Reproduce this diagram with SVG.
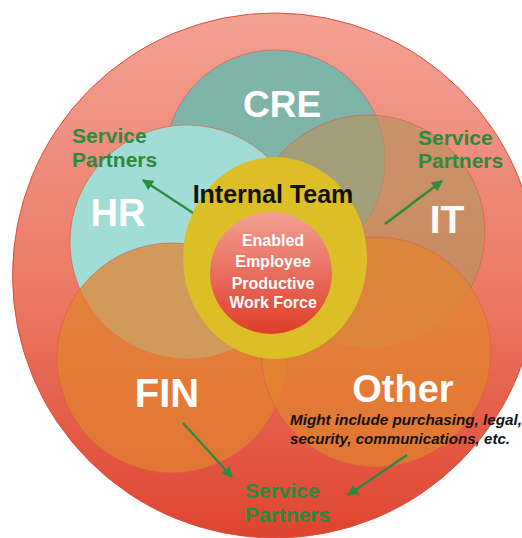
<svg xmlns="http://www.w3.org/2000/svg" width="522" height="538" viewBox="0 0 522 538">
  <defs>
    <linearGradient id="outerGrad" x1="0" y1="0" x2="0" y2="1">
      <stop offset="0" stop-color="#f3a194"/>
      <stop offset="0.5" stop-color="#ec7c68"/>
      <stop offset="1" stop-color="#df4430"/>
    </linearGradient>
    <linearGradient id="coreGrad" x1="0" y1="0" x2="0" y2="1">
      <stop offset="0" stop-color="#f2a092"/>
      <stop offset="1" stop-color="#e03c28"/>
    </linearGradient>
    <marker id="arrow" viewBox="0 0 10 10" refX="9" refY="5" markerWidth="5" markerHeight="5" orient="auto" markerUnits="strokeWidth">
      <path d="M0,0 L10,5 L0,10 Z" fill="#2a8a3e"/>
    </marker>
  </defs>
  <style>
    .ring { stroke: #d65a46; stroke-opacity: 0.6; stroke-width: 1; }
    .dept { font-family: "Liberation Sans", Arial, sans-serif; font-weight: bold; fill: #ffffff; text-anchor: middle; }
    .partner { font-family: "Liberation Sans", Arial, sans-serif; font-weight: bold; fill: #2a8a3e; font-size: 21px; }
    .core { font-family: "Liberation Sans", Arial, sans-serif; font-weight: bold; fill: #ffffff; font-size: 16px; text-anchor: middle; }
    .note { font-family: "Liberation Sans", Arial, sans-serif; font-weight: bold; font-style: italic; fill: #111111; font-size: 14.5px; }
    .link { stroke: #2a8a3e; stroke-width: 2.2; fill: none; marker-end: url(#arrow); }
  </style>

  <!-- outer organisation circle -->
  <g id="organisation">
    <circle cx="275" cy="275.5" r="262.5" fill="url(#outerGrad)" stroke="#d9503c" stroke-width="1"/>
  </g>

  <!-- department circles -->
  <g id="cre">
    <circle class="ring" cx="275" cy="160" r="110" fill="#7fb4a8"/>
    <text class="dept" x="282" y="117" font-size="37">CRE</text>
  </g>
  <g id="hr">
    <circle class="ring" cx="187" cy="242" r="117" fill="#a2dcd6"/>
    <text class="dept" x="118" y="226" font-size="38">HR</text>
  </g>
  <g id="it">
    <circle class="ring" cx="368" cy="232" r="117" fill="#b6935e" fill-opacity="0.65"/>
    <text class="dept" x="447" y="233" font-size="39">IT</text>
  </g>
  <g id="fin">
    <circle class="ring" cx="172" cy="358" r="115" fill="#e1832e" fill-opacity="0.74"/>
    <text class="dept" x="167" y="407" font-size="40">FIN</text>
  </g>
  <g id="other">
    <circle class="ring" cx="376" cy="352" r="115" fill="#e1832e" fill-opacity="0.74"/>
    <text class="dept" x="403" y="402" font-size="38">Other</text>
  </g>

  <!-- internal team ring and core -->
  <g id="internal-team">
    <ellipse cx="275" cy="258" rx="92" ry="101" fill="#dcbf26"/>
    <text x="273" y="203" font-family="'Liberation Sans', Arial, sans-serif" font-weight="bold" font-size="25" fill="#111111" text-anchor="middle">Internal Team</text>
  </g>
  <g id="workforce">
    <circle cx="271" cy="273" r="61" fill="url(#coreGrad)"/>
    <text class="core" x="273" y="246">Enabled</text>
    <text class="core" x="273" y="267">Employee</text>
    <text class="core" x="273" y="289">Productive</text>
    <text class="core" x="273" y="308">Work Force</text>
  </g>

  <!-- service partner labels -->
  <g id="partners-hr">
    <text class="partner" x="72" y="143">Service</text>
    <text class="partner" x="72" y="167">Partners</text>
  </g>
  <g id="partners-it">
    <text class="partner" x="418" y="145">Service</text>
    <text class="partner" x="418" y="168">Partners</text>
  </g>
  <g id="partners-bottom">
    <text class="partner" x="245" y="498">Service</text>
    <text class="partner" x="245" y="522">Partners</text>
  </g>

  <!-- note on other functions -->
  <g id="other-note">
    <text class="note" x="290" y="425" textLength="232" lengthAdjust="spacingAndGlyphs">Might include purchasing, legal,</text>
    <text class="note" x="290" y="444" textLength="220" lengthAdjust="spacingAndGlyphs">security, communications, etc.</text>
  </g>

  <!-- connectors -->
  <g id="connectors">
    <line class="link" x1="193" y1="213" x2="143" y2="180"/>
    <line class="link" x1="385" y1="224" x2="442" y2="181"/>
    <line class="link" x1="183" y1="423" x2="232" y2="477"/>
    <line class="link" x1="407" y1="455" x2="348" y2="495"/>
  </g>
</svg>
